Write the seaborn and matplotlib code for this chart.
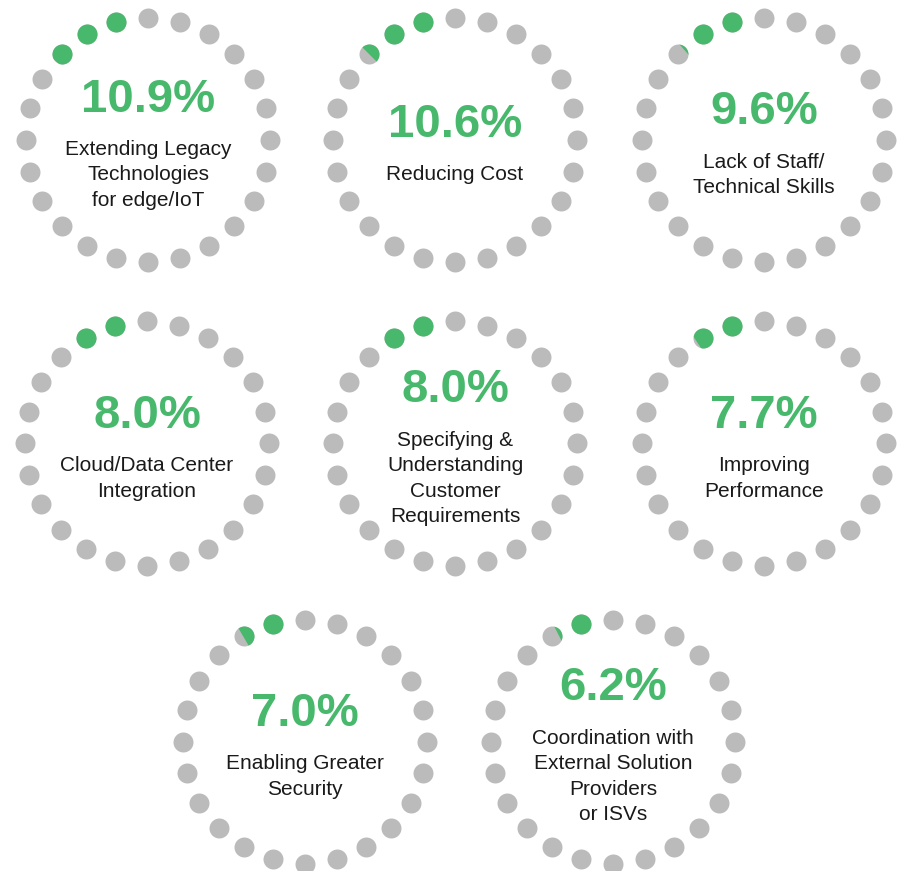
import numpy as np
import pandas as pd
import matplotlib
matplotlib.use("Agg")
import matplotlib.pyplot as plt
import seaborn as sns
from matplotlib.patches import Wedge

# ---- data ----
percent_values = [10.9, 10.6, 9.6, 8.0, 8.0, 7.7, 7.0, 6.2]
category_labels = [
    ["Extending Legacy", "Technologies", "for edge/IoT"],
    ["Reducing Cost"],
    ["Lack of Staff/", "Technical Skills"],
    ["Cloud/Data Center", "Integration"],
    ["Specifying &", "Understanding", "Customer", "Requirements"],
    ["Improving", "Performance"],
    ["Enabling Greater", "Security"],
    ["Coordination with", "External Solution", "Providers", "or ISVs"],
]

# ---- layout / style ----
W, H = 905, 871
centers_px = [(148, 140), (455, 140), (764, 140),
              (147, 443.5), (455, 443.5), (764, 443.5),
              (305, 741.5), (613, 741.5)]
RING_R = 122
N_DOTS = 24
GREEN = "#48B86C"
GRAY = "#BBBBBB"
TEXT = "#1A1A1A"
DOT_S = 207
START_DEG = 6.0
# calibration of the infographic's fill scale (percent -> sweep end, degrees)
SCALE_PCT = [6.0, 9.6, 10.6, 11.0]
SCALE_DEG = [26.2, 41.5, 45.0, 51.0]

sns.set_theme(style="white")
plt.rcParams['font.family'] = ['Liberation Sans', 'DejaVu Sans']

fig = plt.figure(figsize=(W / 100, H / 100), dpi=100)
ax = fig.add_axes([0, 0, 1, 1])
ax.set_xlim(0, W)
ax.set_ylim(0, H)
ax.axis("off")

angles = np.deg2rad(90 - 15 * np.arange(N_DOTS))

for (cx, cy_s), pct, lines in zip(centers_px, percent_values, category_labels):
    cy = H - cy_s
    df = pd.DataFrame({"x": cx + RING_R * np.cos(angles),
                       "y": cy + RING_R * np.sin(angles)})
    sns.scatterplot(data=df, x="x", y="y", color=GRAY, s=DOT_S,
                    linewidth=0, ax=ax, zorder=2)
    sns.scatterplot(data=df, x="x", y="y", color=GREEN, s=DOT_S,
                    linewidth=0, ax=ax, zorder=3)
    coll = ax.collections[-1]
    edge = float(np.interp(pct, SCALE_PCT, SCALE_DEG))
    wedge = Wedge((cx, cy), 200, 90 + START_DEG, 90 + edge,
                  transform=ax.transData, facecolor="none", edgecolor="none")
    ax.add_patch(wedge)
    coll.set_clip_path(wedge)

    n = len(lines)
    pct_center_s = cy_s - 20 - 12.75 * (n - 1)
    ax.text(cx, H - (pct_center_s + 17), f"{pct:.1f}%", ha="center",
            va="baseline", fontsize=34, fontweight="bold", color=GREEN)
    for i, line in enumerate(lines):
        cap_center = pct_center_s + 53 + 25.5 * i
        ax.text(cx, H - (cap_center + 7.3), line, ha="center", va="baseline",
                fontsize=15, color=TEXT)

ax.set_xlim(0, W)
ax.set_ylim(0, H)
fig.savefig("out.png", dpi=100)
